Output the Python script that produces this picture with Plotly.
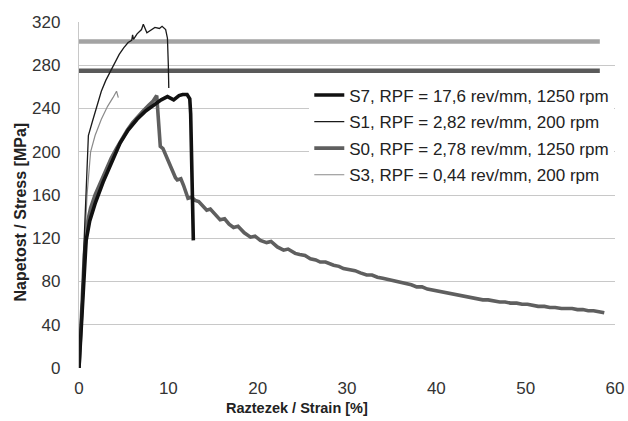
import plotly.graph_objects as go

# ── data ───────────────────────────────────────────────────────────────────
S7_STRAIN = [0, 0.4, 0.8, 1.2, 1.8, 2.7, 3.6, 4.6, 5.5, 6.5, 7.5, 8.3, 9.2, 9.9,
             10.6, 11.2, 11.6, 12.1, 12.4, 12.5, 12.6, 12.7, 12.8]
S7_STRESS = [0, 60, 118, 136, 152, 172, 190, 208, 220, 230, 238, 243, 248, 251,
             248, 252, 253, 253, 249, 235, 190, 150, 118]

S1_STRAIN = [0, 0.5, 0.8, 1.05, 1.5, 2.0, 2.5, 3.0, 3.5, 4.0, 4.5, 5.0, 5.5, 5.9,
             6.0, 6.1, 6.5, 7.0, 7.2, 7.6, 8.0, 8.5, 9.0, 9.3, 9.7, 9.9, 10.0, 10.05]
S1_STRESS = [0, 100, 170, 215, 228, 243, 256, 266, 274, 282, 290, 296, 301, 303,
             308, 304, 309, 313, 318, 310, 312, 315, 314, 316, 313, 305, 280, 259]

S0_STRAIN = [0, 0.3, 0.6, 0.9, 1.3, 1.8, 2.4, 3.0, 3.6, 4.2, 4.8, 5.4, 6.0, 6.6,
             7.2, 7.8, 8.3, 8.7, 8.9, 9.1, 9.4, 9.7, 10.0, 10.2, 10.5, 10.8, 11.0,
             11.4, 11.7, 12.0, 12.2, 12.6, 13.0, 13.4, 13.8, 14.3, 14.7, 15.2, 15.8,
             16.3, 16.8, 17.3, 17.8, 18.5, 19.2, 19.7, 20.3, 21.0, 21.5, 22.2, 22.9,
             23.4, 24.2, 24.7, 25.3, 25.9, 26.5, 27.0, 27.6, 28.5, 29.1, 29.6, 30.3,
             30.9, 31.5, 32.2, 32.8, 33.4, 34.0, 34.6, 35.2, 35.9, 36.5, 37.2, 37.8,
             38.4, 39.0, 39.6, 40.2, 40.9, 41.5, 42.1, 42.8, 43.4, 44.0, 44.6, 45.2,
             45.8, 46.5, 47.1, 47.7, 48.3, 49.0, 49.6, 50.2, 50.8, 51.4, 52.1, 52.7,
             53.3, 54.0, 54.6, 55.2, 55.8, 56.4, 57.0, 57.6, 58.2, 58.8]
S0_STRESS = [0, 55, 105, 133, 148, 160, 172, 183, 194, 203, 212, 220, 227, 233,
             238, 243, 247, 252, 230, 205, 203, 197, 191, 188, 183, 176, 174,
             175, 169, 163, 157, 158, 155, 154, 150, 146, 147, 142, 137,
             138, 133, 130, 131, 125, 121, 122, 118, 116, 117, 112, 109,
             110, 106, 105, 104, 101, 100, 98, 98, 95, 94, 92, 91,
             90, 88, 86, 86, 84, 83, 82, 81, 80, 79, 77, 75,
             75, 73, 72, 71, 70, 69, 68, 67, 66, 65, 64, 63,
             63, 62, 61, 61, 60, 60, 59, 59, 58, 57, 57, 56,
             56, 55, 55, 55, 54, 54, 53, 53, 52, 51]

S3_STRAIN = [0, 0.5, 0.9, 1.3, 1.8, 2.5, 3.2, 3.8, 4.2, 4.4]
S3_STRESS = [0, 90, 160, 200, 215, 230, 242, 250, 256, 250]

REF_STRAIN = [0, 58.3]
REF_UPPER = 302
REF_LOWER = 275

LABELS = {
    "S7": "S7, RPF = 17,6 rev/mm, 1250 rpm",
    "S1": "S1, RPF = 2,82 rev/mm, 200 rpm",
    "S0": "S0, RPF = 2,78 rev/mm, 1250 rpm",
    "S3": "S3, RPF = 0,44 rev/mm, 200 rpm",
}

Y_TICKS = [0, 40, 80, 120, 160, 200, 240, 280, 320]
X_TICKS = [0, 10, 20, 30, 40, 50, 60]

FONT = "Liberation Sans, Arial, sans-serif"
GRID = "#c8c8c8"

W, H = 628, 421
L, R, T, B = 78.5, 13, 22, 53
PW, PH = W - L - R, H - T - B

fig = go.Figure()

# reference lines (no legend entry)
fig.add_trace(go.Scatter(x=REF_STRAIN, y=[REF_UPPER] * 2, mode="lines",
                         line=dict(color="#a3a3a3", width=4.5),
                         showlegend=False, hoverinfo="skip"))
fig.add_trace(go.Scatter(x=REF_STRAIN, y=[REF_LOWER] * 2, mode="lines",
                         line=dict(color="#5a5a5a", width=4.5),
                         showlegend=False, hoverinfo="skip"))

# drawing order: S0 and S3 below S7 and S1; legend order by rank
series = [
    ("S0", S0_STRAIN, S0_STRESS, "#5f5f5f", 3.6, 3),
    ("S3", S3_STRAIN, S3_STRESS, "#8a8a8a", 1.2, 4),
    ("S7", S7_STRAIN, S7_STRESS, "#111111", 3.6, 1),
    ("S1", S1_STRAIN, S1_STRESS, "#1a1a1a", 1.3, 2),
]
for key, xs, ys, colour, width, rank in series:
    fig.add_trace(go.Scatter(
        x=xs, y=ys, mode="lines", name=LABELS[key], legendgroup=key,
        legendrank=rank, line=dict(color=colour, width=width),
    ))

fig.update_layout(
    width=W, height=H,
    paper_bgcolor="white", plot_bgcolor="white",
    margin=dict(l=L, r=R, t=T, b=B),
    font=dict(family=FONT, color="#222222", size=16),
    showlegend=True,
    legend=dict(x=(309 - L) / PW, y=1 - (77.4 - T) / PH,
                xanchor="left", yanchor="top",
                bgcolor="white", borderwidth=0, tracegroupgap=1.5,
                font=dict(size=17, color="#222222")),
    # automargin off: the template would otherwise widen the right margin
    xaxis=dict(range=[0, 60], tickvals=X_TICKS, showgrid=False,
               zeroline=False, showline=False, ticks="", automargin=False,
               tickfont=dict(size=17, color="#333333"),
               ticklabelstandoff=8, fixedrange=True),
    yaxis=dict(range=[0, 320], tickvals=Y_TICKS, showgrid=True,
               gridcolor=GRID, gridwidth=1.3, zeroline=False,
               showline=True, linecolor=GRID, linewidth=1.3, ticks="",
               automargin=False,
               tickfont=dict(size=17, color="#333333"),
               ticklabelstandoff=14, fixedrange=True),
    annotations=[
        dict(text="<b>Raztezek / Strain [%]</b>", xref="paper", yref="paper",
             x=(297 - L) / PW, y=-(408 - (T + PH)) / PH, showarrow=False,
             xanchor="center", yanchor="middle",
             font=dict(size=14.5, color="#222222", family=FONT)),
        dict(text="<b>Napetost / Stress [MPa]</b>", xref="paper", yref="paper",
             x=-(L - 19) / PW, y=((T + PH) - 212) / PH, showarrow=False,
             xanchor="center", yanchor="middle", textangle=-90,
             font=dict(size=16, color="#222222", family=FONT)),
    ],
)

# the page body's default 8 px margin would push the figure off the window
fig.write_html("out.html", config={"displayModeBar": False},
               post_script="document.body.style.margin = '0';")
